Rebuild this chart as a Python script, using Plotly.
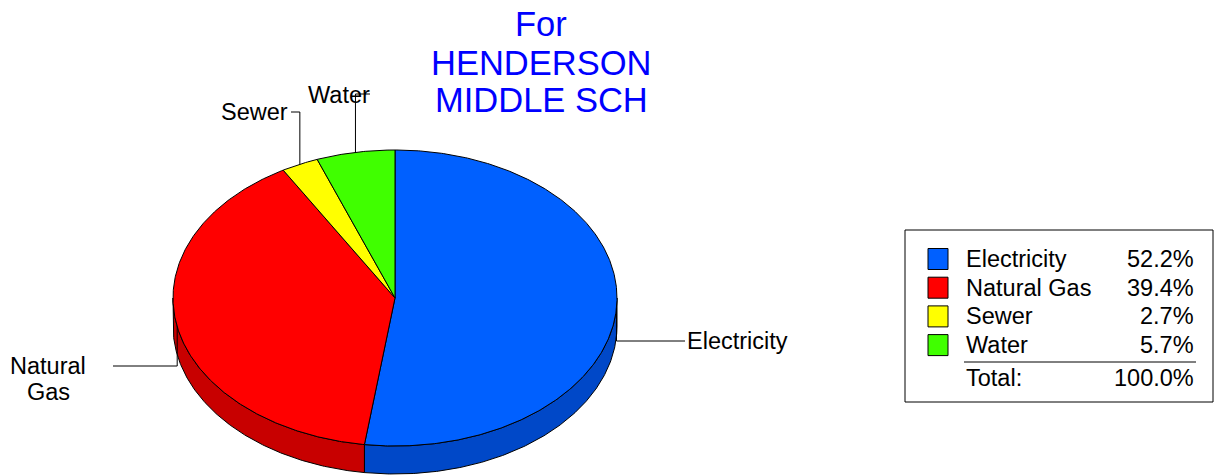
import numpy as np
import plotly.graph_objects as go

# Daten
categories = ["Electricity", "Natural Gas", "Sewer", "Water"]
percents = [52.2, 39.4, 2.7, 5.7]
total_text = "Total:"
total_value = "100.0%"
title_lines = ["For", "HENDERSON", "MIDDLE SCH"]
pie_label_lines = [["Electricity"], ["Natural", "Gas"], ["Sewer"], ["Water"]]

# Farben
top_colors = ["#0060FF", "#FF0000", "#FFFF00", "#40FF00"]
side_colors = ["#0048C8", "#C80000", "#C8C800", "#30C800"]

# Geometrie (Pixel-Koordinaten, y nach unten)
CX, CY, RX, RY, DEPTH = 395, 298, 222, 148, 28
FONT = "Liberation Sans, Arial, sans-serif"


def pt(theta, dy=0.0):
    t = np.radians(theta)
    return CX + RX * np.sin(t), CY - RY * np.cos(t) + dy


def arc(a, b, dy=0.0):
    n = max(int(abs(b - a) * 2), 2)
    th = np.linspace(a, b, n)
    xs, ys = pt(th, dy)
    return list(xs), list(ys)


fr = np.array(percents) / sum(percents)
ends = np.cumsum(fr) * 360
starts = ends - fr * 360

fig = go.Figure()

# Seitenwände (nur vordere Hälfte sichtbar)
for i in range(len(categories)):
    a, b = max(starts[i], 90), min(ends[i], 270)
    if a >= b:
        continue
    x1, y1 = arc(a, b)
    x2, y2 = arc(b, a, DEPTH)
    fig.add_trace(go.Scatter(
        x=x1 + x2 + [x1[0]], y=y1 + y2 + [y1[0]],
        mode="lines", fill="toself", fillcolor=side_colors[i],
        line=dict(color="black", width=1), hoverinfo="skip"))

# Deckfläche
for i in range(len(categories)):
    xa, ya = arc(starts[i], ends[i])
    fig.add_trace(go.Scatter(
        x=[CX] + xa + [CX], y=[CY] + ya + [CY],
        mode="lines", fill="toself", fillcolor=top_colors[i],
        line=dict(color="black", width=1), hoverinfo="skip"))

# Beschriftungen mit Führungslinien
label_ends = [(685, 341), (113, 366), (291, 112), (370, 94)]
label_pos = [
    [(685, 341, "left")],
    [(48, 366, "center"), (48, 392, "center")],
    [(290, 111.5, "right")],
    [(306, 95, "left")],
]
annotations = []
for i in range(len(categories)):
    mid = (starts[i] + ends[i]) / 2
    ax, ay = pt(mid)
    lx, ly = label_ends[i]
    fig.add_trace(go.Scatter(
        x=[ax, ax, lx], y=[ay, ly, ly], mode="lines",
        line=dict(color="black", width=1), hoverinfo="skip"))
    for txt, (x, y, anc) in zip(pie_label_lines[i], label_pos[i]):
        annotations.append(dict(x=x, y=y, text=txt, xanchor=anc, yanchor="middle",
                                showarrow=False, font=dict(size=23.5, color="black")))

# Titel
for txt, y in zip(title_lines, [23.5, 62.5, 100]):
    annotations.append(dict(x=541, y=y, text=txt, xanchor="center", yanchor="middle",
                            showarrow=False, font=dict(size=34.5, color="#0000FF")))

# Legende
shapes = [dict(type="rect", x0=905, x1=1213, y0=230, y1=402,
               line=dict(color="black", width=1), fillcolor="white", layer="below")]
LEG_Y0, LEG_DY = 259, 28.7
for i, cat in enumerate(categories):
    y = LEG_Y0 + i * LEG_DY
    shapes.append(dict(type="rect", x0=928, x1=948, y0=y - 10.5, y1=y + 10.5,
                       fillcolor=top_colors[i], line=dict(color="black", width=1)))
    annotations.append(dict(x=964, y=y, text=cat, xanchor="left", yanchor="middle",
                            showarrow=False, font=dict(size=23.5, color="black")))
    annotations.append(dict(x=1196, y=y, text=f"{percents[i]:.1f}%", xanchor="right",
                            yanchor="middle", showarrow=False,
                            font=dict(size=23.5, color="black")))
shapes.append(dict(type="line", x0=964, x1=1196, y0=362, y1=362,
                   line=dict(color="black", width=1)))
annotations.append(dict(x=964, y=378, text=total_text, xanchor="left", yanchor="middle",
                        showarrow=False, font=dict(size=23.5, color="black")))
annotations.append(dict(x=1196, y=378, text=total_value, xanchor="right", yanchor="middle",
                        showarrow=False, font=dict(size=23.5, color="black")))

fig.update_layout(
    width=1228, height=475, autosize=False,
    margin=dict(l=0, r=0, t=0, b=0),
    paper_bgcolor="white", plot_bgcolor="white",
    showlegend=False, hovermode=False,
    font=dict(family=FONT),
    xaxis=dict(range=[0, 1228], visible=False, fixedrange=True),
    yaxis=dict(range=[475, 0], visible=False, fixedrange=True),
    shapes=shapes, annotations=annotations,
)

fig.write_html("out.html", config={"displayModeBar": False},
               post_script="document.body.style.margin='0px';")
